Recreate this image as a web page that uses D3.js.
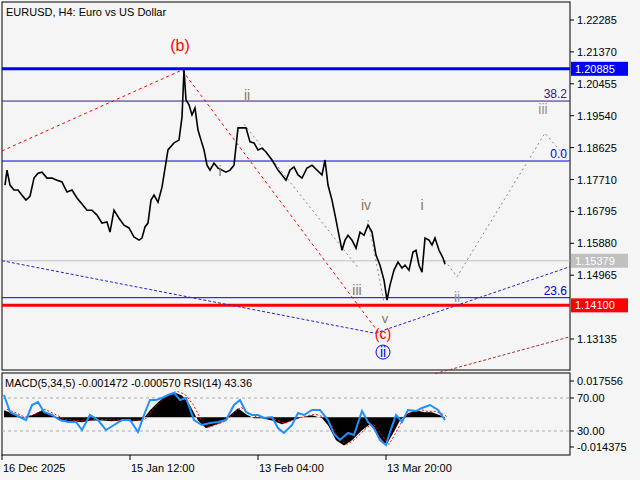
<!DOCTYPE html>
<html><head><meta charset="utf-8">
<script src="https://cdn.jsdelivr.net/npm/d3@7"></script>
<style>body{margin:0;background:#f5f5f5}text{font-family:"Liberation Sans",Arial,sans-serif}</style>
</head><body><svg id="c" width="640" height="480"></svg>
<script>
// price path (bar index, close)
const priceBars = [3,5,8,12,16,20,24,28,32,36,40,45,50,55,60,65,70,75,80,85,90,95,100,105,108,112,117,122,127,132,137,140,143,146,149,152,156,160,166,172,177,180,182,184,187,190,193,196,199,202,205,208,212,216,220,224,228,232,236,240,244,248,252,256,260,264,270,276,280,284,288,292,296,300,305,310,315,320,323,326,330,334,337,340,343,346,350,354,358,362,366,370,374,378,382,385,388,392,396,400,403,407,411,414,417,420,423,427,430,433,437,441,443]
const priceVals = [1.1755,1.1798,1.1755,1.1741,1.1741,1.1726,1.1712,1.1723,1.1775,1.1789,1.1792,1.1775,1.1775,1.1769,1.1764,1.1735,1.1741,1.1718,1.1701,1.1683,1.1683,1.1669,1.1646,1.1649,1.1620,1.1683,1.1660,1.1640,1.1632,1.1606,1.1597,1.1603,1.1635,1.1646,1.1712,1.1726,1.1706,1.1749,1.1856,1.1876,1.1884,1.1950,1.2085,1.1999,1.1985,1.1956,1.1976,1.1913,1.1884,1.1856,1.1812,1.1798,1.1818,1.1804,1.1798,1.1792,1.1798,1.1812,1.1919,1.1919,1.1919,1.1879,1.1876,1.1856,1.1861,1.1850,1.1827,1.1798,1.1784,1.1769,1.1798,1.1807,1.1784,1.1775,1.1804,1.1812,1.1798,1.1784,1.1827,1.1755,1.1712,1.1655,1.1611,1.1568,1.1597,1.1611,1.1597,1.1574,1.1620,1.1611,1.1640,1.1620,1.1554,1.1525,1.1482,1.1425,1.1468,1.1511,1.1534,1.1517,1.1525,1.1511,1.1563,1.1568,1.1525,1.1505,1.1603,1.1597,1.1583,1.1603,1.1568,1.1546,1.1528]
const priceTicks = [1.22285,1.21370,1.20455,1.19540,1.18625,1.17710,1.16795,1.15880,1.14965,1.13135]
const dateTicks = [[0,"16 Dec 2025"],[128,"15 Jan 12:00"],[256,"13 Feb 04:00"],[384,"13 Mar 20:00"]]
// indicator (bar index, RSI, MACD histogram)
const indBars = [2,8,16,24,30,36,42,50,58,66,74,80,88,96,104,112,120,128,136,142,148,154,160,166,172,178,184,192,200,208,216,224,232,238,244,250,256,262,270,276,282,290,296,302,310,318,326,332,338,346,352,360,366,372,378,384,388,394,400,406,414,420,428,436,443]
const rsiVals = [73.6,53.0,48.2,43.3,61.5,65.2,53.0,49.4,43.3,40.9,40.9,31.2,49.4,43.3,31.2,37.3,43.3,43.3,28.8,49.4,67.6,67.6,70,73.6,76.1,67.6,70,43.3,37.3,39.7,40.9,43.3,61.5,67.6,53.0,49.4,49.4,45.8,47.0,33.6,27.6,37.3,51.8,49.4,55.5,55.5,43.3,26.4,19.1,27.6,25.2,54.2,40.9,33.6,19.1,13.1,28.8,49.4,40.9,55.5,54.2,57.9,61.5,55.5,43.36]
const macdBars = [2,10,20,30,40,50,60,70,80,90,100,110,120,130,140,148,156,164,172,180,188,196,204,212,220,228,236,244,252,260,270,280,290,300,310,320,326,334,342,350,360,368,376,384,390,398,406,414,422,430,438,443]
const macdVals = [0.0034,0.0019,-0.0005,0.001,0.0034,0.001,-0.0015,-0.0019,-0.0024,-0.0015,-0.0015,-0.0019,-0.0015,-0.0019,-0.0015,0.0034,0.0073,0.0106,0.0121,0.0106,0.0058,-0.0015,-0.0053,-0.0039,-0.0024,0.001,0.0044,0.0015,-0.0005,-0.0005,-0.0015,-0.0034,-0.0015,0,0.001,-0.0005,-0.0039,-0.0111,-0.0136,-0.0111,-0.0063,-0.0034,-0.0087,-0.0136,-0.0087,-0.0015,0.0019,0.0034,0.0024,0.0024,0.001,-0.0005]

const svg = d3.select("#c")
const x = d3.scaleLinear().domain([0, 568]).range([2, 570])
const y = d3.scaleLinear().domain([1.22285, 1.13135]).range([20, 339])
const yR = d3.scaleLinear().domain([70, 30]).range([398, 431])
const yM = d3.scaleLinear().domain([0.017556, -0.014375]).range([381, 447])

svg.append("rect").attr("x",2).attr("y",2).attr("width",568).attr("height",368).attr("fill","#f5f5f5").attr("stroke","#000")
svg.append("rect").attr("x",2).attr("y",373).attr("width",568).attr("height",82).attr("fill","#f5f5f5").attr("stroke","#000")

const main = svg.append("g")
// horizontal levels
const hline = (p, c, w) => main.append("line").attr("x1",2).attr("x2",570).attr("y1",y(p)).attr("y2",y(p)).attr("stroke",c).attr("stroke-width",w)
hline(1.15379,"#c0c0c0",1)
hline(1.1996,"#3a1a80",1)
hline(1.1824,"#0000cc",1)
hline(1.1432,"#0000ff",1)
hline(1.20885,"#0000ff",3)
hline(1.14100,"#ff0000",3)

// wave paths
const wl = (pts, c, dash) => main.append("path").attr("d", d3.line().x(d=>x(d[0])).y(d=>y(d[1]))(pts))
  .attr("fill","none").attr("stroke",c).attr("stroke-dasharray",dash).attr("stroke-width",1)
wl([[0,1.1853],[180,1.2085],[381,1.1315]],"#ff0000","3,3")
wl([[0,1.1538],[373,1.1330],[568,1.1521]],"#2222cc","3,2")
wl([[433,1.1214],[568,1.1320]],"#a03030","3,2")
wl([[242,1.1930],[356,1.1518]],"#888","2,3")
wl([[366,1.1655],[382,1.1420]],"#888","2,3")
wl([[440,1.1550],[455,1.1492],[543,1.1904],[568,1.1820]],"#888","2,3")

// price line
main.append("path").attr("d", d3.line().x(d=>x(d)).y((d,i)=>y(priceVals[i]))(priceBars))
  .attr("fill","none").attr("stroke","#000").attr("stroke-width",1.6)

// wave labels
const lab = (t, bx, p, c, s) => main.append("text").attr("x",x(bx)).attr("y",y(p)).attr("fill",c)
  .attr("font-size",s).attr("text-anchor","middle").text(t)
lab("(b)",178,1.2140,"#ff0000",16)
lab("ii",245,1.2000,"#8b7560",14)
lab("i",218,1.1781,"#8b7560",14)
lab("iv",364,1.1683,"#8b7560",14)
lab("iii",355,1.1440,"#8b7560",14)
lab("v",383,1.1359,"#8b7560",13)
lab("(c)",381,1.1313,"#ff0000",14)
lab("ii",381,1.1261,"#0000ff",14)
main.append("circle").attr("cx",x(381)).attr("cy",y(1.1276)).attr("r",7).attr("fill","none").attr("stroke","#0000ff")
lab("i",420,1.1684,"#8b7560",14)
lab("ii",455,1.1420,"#8899aa",14)
lab("iii",541,1.1960,"#999080",14)
const fib = (t, p, c) => main.append("text").attr("x",567).attr("y",y(p)-3).attr("text-anchor","end").attr("font-size",12).attr("fill",c).text(t)
fib("38.2",1.1996,"#3a1a80"); fib("0.0",1.1824,"#0000cc"); fib("23.6",1.1432,"#0000cc")
svg.append("text").attr("x",6).attr("y",16).attr("font-size",11).text("EURUSD, H4:  Euro vs US Dollar")

// price axis
priceTicks.forEach(p => {
  svg.append("line").attr("x1",570).attr("x2",574).attr("y1",y(p)).attr("y2",y(p)).attr("stroke","#000")
  svg.append("text").attr("x",577).attr("y",y(p)+4).attr("font-size",11).text(p.toFixed(5))
})
const tag = (p, bg, fg) => {
  svg.append("rect").attr("x",571).attr("y",y(p)-7).attr("width",57).attr("height",14).attr("fill",bg)
  svg.append("text").attr("x",575).attr("y",y(p)+4).attr("font-size",11).attr("fill",fg).text(p.toFixed(5))
}
tag(1.20885,"#0000ff","#fff"); tag(1.15379,"#c0c0c0","#fff"); tag(1.14100,"#ff0000","#fff")

// indicator panel
const ind = svg.append("g")
;[70,30].forEach(v => ind.append("line").attr("x1",2).attr("x2",570).attr("y1",yR(v)).attr("y2",yR(v)).attr("stroke","#aaa").attr("stroke-dasharray","3,3"))
ind.append("path").attr("d", d3.area().x(d=>x(d)).y0(yM(0)).y1((d,i)=>yM(macdVals[i]))(macdBars)).attr("fill","#000")
ind.append("path").attr("d", d3.line().x(d=>x(d)+3).y((d,i)=>yM(macdVals[i])-1)(macdBars)).attr("fill","none").attr("stroke","#ff0000").attr("stroke-dasharray","2,2")
ind.append("path").attr("d", d3.line().x(d=>x(d)).y((d,i)=>yR(rsiVals[i]))(indBars)).attr("fill","none").attr("stroke","#1e90ff").attr("stroke-width",2)
svg.append("text").attr("x",5).attr("y",387).attr("font-size",11).text("MACD(5,34,5) -0.001472 -0.000570 RSI(14) 43.36")
;[[0.017556,"0.017556"],[-0.014375,"-0.014375"]].forEach(([v,t]) => {
  svg.append("line").attr("x1",570).attr("x2",574).attr("y1",yM(v)).attr("y2",yM(v)).attr("stroke","#000")
  svg.append("text").attr("x",577).attr("y",yM(v)+4).attr("font-size",11).text(t)
})
;[70,30].forEach(v => {
  svg.append("line").attr("x1",570).attr("x2",574).attr("y1",yR(v)).attr("y2",yR(v)).attr("stroke","#000")
  svg.append("text").attr("x",577).attr("y",yR(v)+4).attr("font-size",11).text(v.toFixed(2))
})
// time axis
dateTicks.forEach(([b,t]) => {
  svg.append("line").attr("x1",x(b)).attr("x2",x(b)).attr("y1",455).attr("y2",460).attr("stroke","#000")
  svg.append("text").attr("x",x(b)+1).attr("y",472).attr("font-size",11).text(t)
})
</script></body></html>
